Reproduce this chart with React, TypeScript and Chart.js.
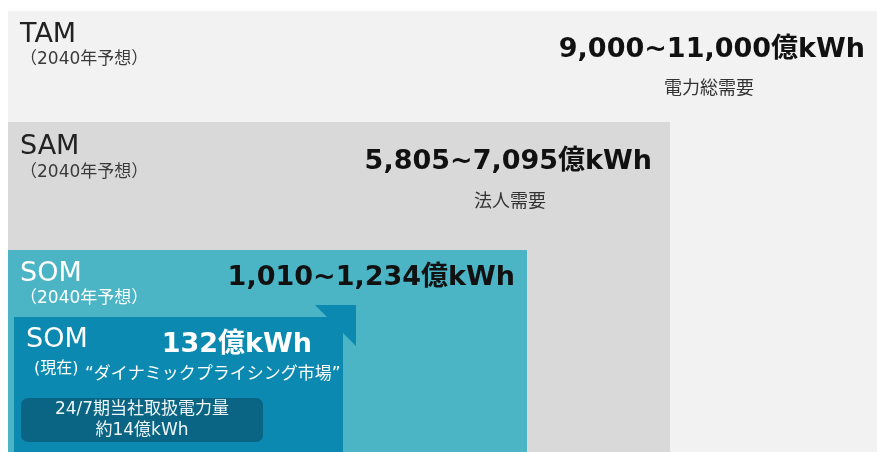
import React, { useEffect, useRef } from "react";
import { Chart, registerables } from "chart.js";

Chart.register(...registerables);

// ---- data ----
const markets = ["TAM", "SAM", "SOM"];
const periodLabel = "（2040年予想）";
const lowerBound = [9000, 5805, 1010];
const upperBound = [11000, 7095, 1234];
const unitLabel = "億kWh";
const segmentLabels = ["電力総需要", "法人需要", ""];
const currentTitle = "SOM";
const currentPeriod = "(現在)";
const currentValue = 132;
const currentMarket = "“ダイナミックプライシング市場”";
const handledLabel = "24/7期当社取扱電力量";
const handledValue = 14;

// ---- layout (axis units, y measured downward) ----
const boxX0 = [8, 8, 8];
const boxX1 = [877, 670, 527];
const boxY0 = [11, 122, 250];
const boxY1 = [452, 452, 452];
const boxColors = ["#f2f2f2", "#d9d9d9", "#4bb5c6"];
const currentShapeX = [14, 327, 315, 356, 356, 343, 343, 14, 14];
const currentShapeY = [317, 317, 305, 305, 346, 333, 452, 452, 317];
const currentColor = "#0b89b0";
const innerBox = { x0: 21, x1: 263, y0: 398, y1: 442, r: 7, color: "#0a6584" };

const fmt = (n: number) => n.toLocaleString("en-US");
const LATIN = '"DejaVu Sans", "Noto Sans CJK JP", sans-serif';
const CJK = '"Noto Sans CJK JP", "DejaVu Sans", sans-serif';

export default function App() {
  const ref = useRef<HTMLCanvasElement | null>(null);

  useEffect(() => {
    if (!ref.current) return;

    const datasets: any[] = markets.map((m, i) => ({
      label: m,
      data: [
        { x: boxX0[i], y: boxY0[i] },
        { x: boxX1[i], y: boxY0[i] },
        { x: boxX1[i], y: boxY1[i] },
        { x: boxX0[i], y: boxY1[i] },
        { x: boxX0[i], y: boxY0[i] },
      ],
      backgroundColor: boxColors[i],
      borderColor: "rgba(0,0,0,0)",
      borderWidth: 0,
      pointRadius: 0,
      fill: "shape",
      tension: 0,
      order: 10 - i,
    }));
    datasets.push({
      label: "SOM現在",
      data: currentShapeX.map((x, k) => ({ x, y: currentShapeY[k] })),
      backgroundColor: currentColor,
      borderColor: "rgba(0,0,0,0)",
      borderWidth: 0,
      pointRadius: 0,
      fill: "shape",
      tension: 0,
      order: 1,
    });

    const textPlugin = {
      id: "texts",
      afterDatasetsDraw(chart: any) {
        const { ctx, scales } = chart;
        const X = (v: number) => scales.x.getPixelForValue(v);
        const Y = (v: number) => scales.y.getPixelForValue(v);
        // inner rounded box
        ctx.save();
        ctx.fillStyle = innerBox.color;
        ctx.beginPath();
        const bx = X(innerBox.x0), by = Y(innerBox.y0);
        const bw = X(innerBox.x1) - bx, bh = Y(innerBox.y1) - by;
        (ctx as any).roundRect(bx, by, bw, bh, innerBox.r);
        ctx.fill();
        ctx.restore();

        const t = (s: string, x: number, y: number, font: string, color: string, align: CanvasTextAlign = "left") => {
          ctx.save();
          ctx.font = font;
          ctx.fillStyle = color;
          ctx.textAlign = align;
          ctx.textBaseline = "middle";
          ctx.fillText(s, X(x), Y(y));
          ctx.restore();
        };

        const titleColors = ["#222222", "#222222", "#ffffff"];
        const subColors = ["#3a3a3a", "#3a3a3a", "#ffffff"];
        const titleY = [35, 147, 274];
        const subY = [60, 173, 299];
        const valueRight = [865, 652, 515];
        const valueY = [50, 162, 278];
        const segX = [709, 510, 0];
        const segY = [87, 200, 0];
        markets.forEach((m, i) => {
          t(m, 20, titleY[i], `27px ${LATIN}`, titleColors[i]);
          t(periodLabel, 20, subY[i], `17px ${LATIN}`, subColors[i]);
          t(`${fmt(lowerBound[i])}~${fmt(upperBound[i])}${unitLabel}`, valueRight[i], valueY[i], `bold 27px ${LATIN}`, "#111111", "right");
          if (segmentLabels[i]) t(segmentLabels[i], segX[i], segY[i], `18px ${CJK}`, "#333333", "center");
        });

        t(currentTitle, 26, 340, `27px ${LATIN}`, "#ffffff");
        t(`${fmt(currentValue)}${unitLabel}`, 312, 345, `bold 27px ${LATIN}`, "#ffffff", "right");
        t(currentPeriod, 34, 369, `16px ${LATIN}`, "#ffffff");
        t(currentMarket, 85, 375, `17px ${LATIN}`, "#ffffff");
        t(handledLabel, 142, 410, `17px ${LATIN}`, "#eef6f9", "center");
        t(`約${fmt(handledValue)}${unitLabel}`, 142, 431, `17px ${LATIN}`, "#eef6f9", "center");
      },
    };

    const chart = new Chart(ref.current, {
      type: "line",
      data: { datasets },
      options: {
        animation: false,
        responsive: false,
        maintainAspectRatio: false,
        layout: { padding: 0 },
        plugins: { legend: { display: false }, tooltip: { enabled: false } },
        scales: {
          x: { type: "linear", min: 0, max: 877, display: false },
          y: { type: "linear", min: 0, max: 452, reverse: true, display: false },
        },
      },
      plugins: [textPlugin],
    });
    return () => chart.destroy();
  }, []);

  return (
    <div style={{ position: "fixed", left: 0, top: 0, width: 877, height: 452, background: "#ffffff" }}>
      <canvas ref={ref} width={877} height={452} style={{ display: "block", width: 877, height: 452 }} />
    </div>
  );
}
